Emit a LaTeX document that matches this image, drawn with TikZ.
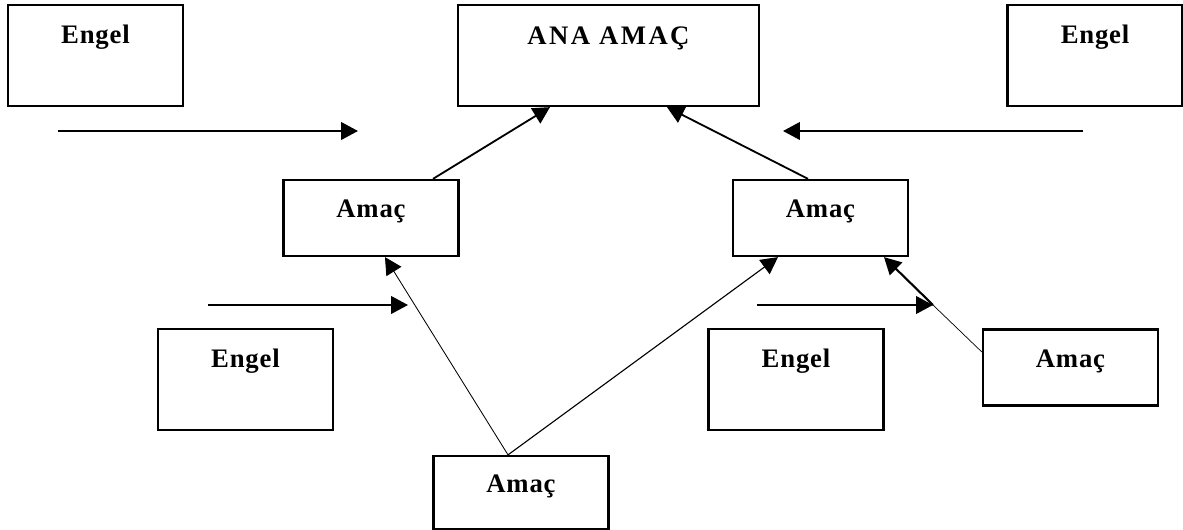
\documentclass[tikz,border=0pt]{standalone}
\usepackage{fontspec}
\setmainfont{Liberation Serif}
\usetikzlibrary{arrows.meta, positioning, calc}

\tikzset{
    box/.style={draw, line width=1.6pt, inner sep=0pt, minimum width=4.375cm,
        font=\bfseries\fontsize{19}{21}\selectfont\addfontfeature{LetterSpace=3}},
    engel/.style={box, minimum height=2.525cm, text height=0.3cm, text depth=0.9cm},
    amac/.style={box, minimum height=1.9cm, text height=0.3cm, text depth=0.3cm},
    anabox/.style={box, minimum width=7.525cm, minimum height=2.525cm, text height=0.3cm, text depth=0.85cm,
        font=\bfseries\fontsize{19}{21}\selectfont\addfontfeature{LetterSpace=9}},
    link/.style={-{Triangle[length=12pt, width=12.5pt]}, line width=1.4pt},
    weak/.style={line width=0.8pt},
}

\begin{document}
\begin{tikzpicture}[x=0.025cm, y=-0.025cm]
    \useasboundingbox (0,0) rectangle (1183,530);

    % Top row
    \node[engel] (e1) at (95.5,55.5) {Engel};
    \node[anabox] (ana) at (608.5,55.5) {ANA AMAÇ};
    \node[engel] (e2) at (1095,55.5) {Engel};

    % Sub goals
    \node[amac] (a1) at (371,218) {Amaç};
    \node[amac] (a2) at (820.5,218) {Amaç};

    % Lower row
    \node[engel] (e3) at (245.5,379.5) {Engel};
    \node[engel] (e4) at (796,379.5) {Engel};
    \node[amac] (a3) at (1070.5,367.5) {Amaç};
    \node[amac, minimum height=1.825cm] (a4) at (521,492.5) {Amaç};

    % Obstacle arrows
    \coordinate (h1s) at (58,131);
    \coordinate (h1e) at (358,131);
    \coordinate (h2s) at (1083,131);
    \coordinate (h2e) at (783,131);
    \coordinate (h3s) at (208,305);
    \coordinate (h3e) at (408,305);
    \coordinate (h4s) at (757,305);
    \coordinate (h4e) at (933,305);
    \draw[link] (h1s) -- (h1e);
    \draw[link] (h2s) -- (h2e);
    \draw[link] (h3s) -- (h3e);
    \draw[link] (h4s) -- (h4e);

    % Goal arrows
    \draw[link, line width=1.3pt] ($(a1.north)+(62,0)$) -- ($(ana.south)+(-58.5,0)$);
    \draw[link, line width=1.3pt] ($(a2.north)+(-12.5,0)$) -- ($(ana.south)+(58.5,0)$);
    \draw[link, line width=0.6pt] ($(a4.north)+(-13,0)$) -- ($(a1.south)+(14,0)$);
    \draw[link, weak] ($(a4.north)+(-13,0)$) -- ($(a2.south)+(-42.5,0)$);
    \draw[weak, line width=0.5pt] ($(a3.west)+(0,-15.5)$) -- (h4e);
    \draw[link, line width=1.5pt] (h4e) -- ($(a2.south)+(63.5,0)$);
\end{tikzpicture}
\end{document}
